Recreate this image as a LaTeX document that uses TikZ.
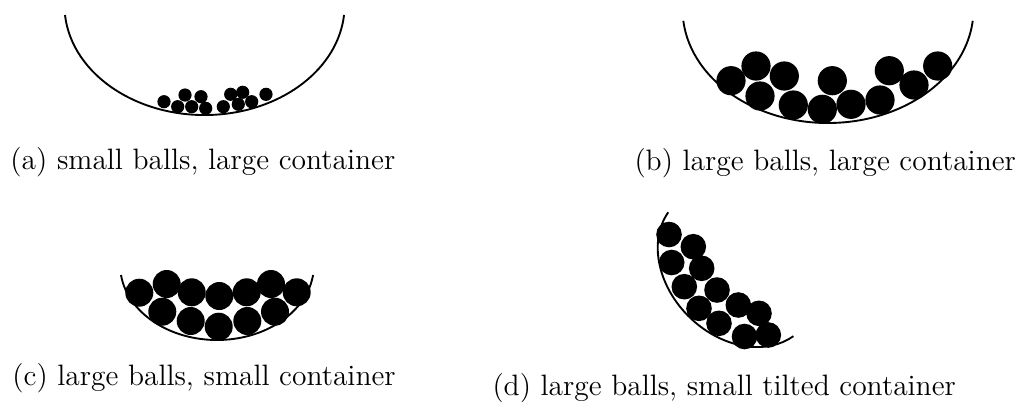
\documentclass[tikz,border=0pt]{standalone}
\begin{document}
\begin{tikzpicture}[x=0.4pt,y=0.4pt,
  wall/.style={line width=0.75pt,black},
  ballS/.style={fill=black,draw=none},
  captext/.style={anchor=base west,inner sep=0pt,font=\fontsize{11.8}{14}\selectfont}]
\useasboundingbox (0,0) rectangle (1020,-401);
% (a)
\draw[wall] (65,-15) arc[start angle=185.2,end angle=354.8,x radius=140.1,y radius=110];
\foreach \p in {(164,-101.7),(185,-95),(201,-96.7),(177.7,-106.7),(191.7,-106.7),(205.7,-108.3),(223.3,-106.7),(230.7,-94.3),(242.7,-92.3),(238.3,-104.3),(251.7,-101.7),(266,-94.3)}
  \fill[ballS] \p circle (6.6);
\node[captext] (capa) at (10,-169) {(a) small balls, large container};
% (b)
\draw[wall] (683.3,-20.8) arc[start angle=185.94,end angle=354.06,x radius=145.5,y radius=114];
\foreach \p in {(731,-80.7),(756,-66),(784.3,-76),(760,-96),(793.3,-105),(822.3,-109.3),(832.3,-80.7),(851,-104.3),(880,-100),(889.3,-70.7),(914,-85),(937.7,-66)}
  \fill[ballS] \p circle (14.6);
\node[captext] (capb) at (634,-170) {(b) large balls, large container};
% (c)
\draw[wall] (121,-275) arc[start angle=187.66,end angle=352.34,x radius=96.9,y radius=75];
\foreach \p in {(139.3,-292.7),(166.7,-284),(191.7,-292.3),(219.3,-296),(246.7,-292.3),(271,-284),(296.7,-292.3),(162.3,-311.7),(190.7,-321),(218.7,-326.7),(247.3,-321),(275,-311.7)}
  \fill[ballS] \p circle (14);
\node[captext] (capc) at (12,-385) {(c) large balls, small container};
% (d)
\begin{scope}[shift={(730.8,-274.2)},rotate=-44.7,scale=0.917]
\draw[wall] (-96,0) arc[start angle=187.66,end angle=352.34,x radius=96.9,y radius=75];
\end{scope}
\foreach \p in {(669,-234.5),(693.3,-246.7),(671.7,-262.5),(701.7,-268.3),(684.3,-286.7),(717,-290),(699,-308.3),(719,-323.3),(738.3,-305),(759,-313.3),(744.5,-336.5),(768.3,-335)}
  \fill[ballS] \p circle (12.8);
\node[captext] (capd) at (492,-395.5) {(d) large balls, small tilted container};
\end{tikzpicture}
\end{document}
